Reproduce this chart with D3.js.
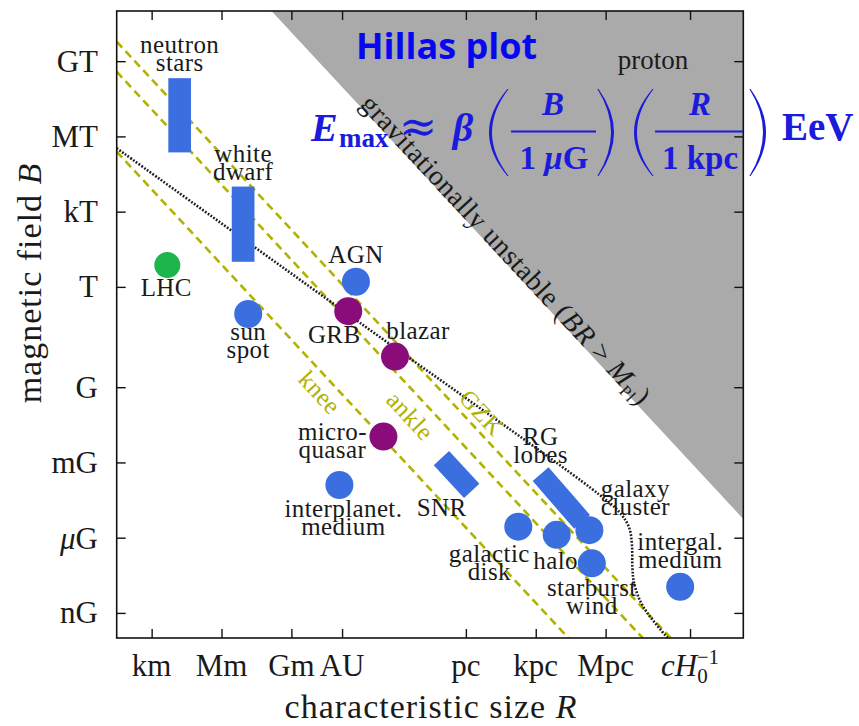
<!DOCTYPE html>
<html>
<head>
<meta charset="utf-8">
<script src="https://cdn.jsdelivr.net/npm/d3@7"></script>
<style>
body { margin: 0; background: #fff; }
text { font-family: "Liberation Serif", "Times New Roman", serif; fill: #1a1a1a; }
</style>
</head>
<body>
<script>
// axes: R in metres, B in gauss
const xTickLabels = ["km", "Mm", "Gm", "AU", "pc", "kpc", "Mpc", "cH0-1"];
const xTickValues = [1e3, 1e6, 1e9, 1.496e11, 3.086e16, 3.086e19, 3.086e22, 1.3e26];
const yTickLabels = ["nG", "μG", "mG", "G", "T", "kT", "MT", "GT"];
const yTickValues = [1e-9, 1e-6, 1e-3, 1, 1e4, 1e7, 1e10, 1e13];

// sources drawn as dots
const dotNames = ["LHC", "sun\nspot", "AGN", "GRB", "blazar", "micro-\nquasar",
  "interplanet.\nmedium", "galactic\ndisk", "halo", "galaxy\ncluster",
  "starburst\nwind", "intergal.\nmedium"];
const dotR = [4.7e3, 1.4e7, 5.9e11, 2.75e11, 2.8e13, 8.9e12, 1.15e11, 5.5e18, 2.45e20, 6.2e21, 7.9e21, 4.9e25];
const dotB = [7.4e4, 830, 1.6e4, 1.07e3, 16.6, 1.07e-2, 1.26e-4, 2.75e-6, 1.3e-6, 2.0e-6, 9.5e-8, 1.1e-8];
const dotGroup = ["lab", "steady", "steady", "transient", "transient", "transient",
  "steady", "steady", "steady", "steady", "steady", "steady"];

// sources drawn as boxes (ranges in R and B)
const boxNames = ["neutron\nstars", "white\ndwarf"];
const boxR0 = [5.2e3, 2.75e6];
const boxR1 = [4.9e4, 2.6e7];
const boxB0 = [2.3e9, 1e5];
const boxB1 = [2.1e12, 1e8];

// sources drawn as thick bars
const barNames = ["SNR", "RG\nlobes"];
const barR0 = [2.75e15, 5.0e19];
const barB0 = [1.48e-3, 3.4e-4];
const barR1 = [5.5e16, 3.0e21];
const barB1 = [7.4e-5, 4.3e-6];

// Hillas condition B*R (gauss*metre) for the three energies
const limitNames = ["knee", "ankle", "GZK"];
const limitBR = [7.8e10, 1.2e14, 1.9e15];

// gravitational stability limit B*R
const gravBR = 1.4e23;

// loss limit (dotted)
const lossR = [10 ** 1.5, 1e12, 10 ** 22.2, 10 ** 23.1, 10 ** 23.5, 10 ** 23.62, 10 ** 23.64, 10 ** 23.72, 10 ** 24.1, 10 ** 25.2];
const lossB = [10 ** 9.53, 10 ** 2.53, 10 ** -4.27, 1e-5, 10 ** -5.6, 10 ** -6.3, 10 ** -7.2, 10 ** -7.85, 10 ** -8.75, 10 ** -10.05];

const colours = { lab: "#1db64c", steady: "#3b6fe0", transient: "#8a0b7a" };
const olive = "#b2b200";
const blueText = "#1b1bdc";

// label layout: offset of first baseline from the mark
const dotLabel = [[-1, 31], [0, 26], [0, -19], [-14, 32], [23, -18], [-51, 3],
  [4, 32], [-29, 35], [-1, 34], [46, -33], [0, 33], [0, -37]];

const w = 859, h = 726;
const svg = d3.select("body").append("svg").attr("width", w).attr("height", h);

const x = d3.scaleLog().domain([10 ** 1.5, 10 ** 28.4]).range([116.7, 743.3]);
const y = d3.scaleLog().domain([1e-10, 1e15]).range([638, 11]);
const [xl, xr] = x.range();
const [yb, yt] = y.range();

svg.append("clipPath").attr("id", "plot")
  .append("rect").attr("x", xl).attr("y", yt).attr("width", xr - xl).attr("height", yb - yt);

const plot = svg.append("g").attr("clip-path", "url(#plot)");

// gravitationally unstable region
const [rMin, rMax] = x.domain();
const [bMin, bMax] = y.domain();
plot.append("path")
  .attr("d", d3.line()([[x(gravBR / bMax), y(bMax)], [x(rMax), y(bMax)], [x(rMax), y(gravBR / rMax)]]) + "Z")
  .attr("fill", "#aaaaaa");

const ang = Math.atan2(y(gravBR / 1e20) - y(gravBR / 1e10), x(1e20) - x(1e10)) * 180 / Math.PI;
const ra = ang * Math.PI / 180;

// limit lines
const line = d3.line().x(d => x(d[0])).y(d => y(d[1]));
limitBR.forEach(br => {
  plot.append("path")
    .attr("d", line([[rMin, br / rMin], [br / bMin, bMin]]))
    .attr("fill", "none").attr("stroke", olive)
    .attr("stroke-width", 2.6).attr("stroke-dasharray", "8 5");
});

plot.append("path")
  .attr("d", line.curve(d3.curveCatmullRom)(d3.zip(lossR, lossB)))
  .attr("fill", "none").attr("stroke", "#1e1e1e")
  .attr("stroke-width", 2.6).attr("stroke-dasharray", "1.8 1.6");
line.curve(d3.curveLinear);

// marks
boxNames.forEach((n, i) => {
  plot.append("rect")
    .attr("x", x(boxR0[i])).attr("y", y(boxB1[i]))
    .attr("width", x(boxR1[i]) - x(boxR0[i])).attr("height", y(boxB0[i]) - y(boxB1[i]))
    .attr("fill", colours.steady);
});
barNames.forEach((n, i) => {
  plot.append("line")
    .attr("x1", x(barR0[i])).attr("y1", y(barB0[i]))
    .attr("x2", x(barR1[i])).attr("y2", y(barB1[i]))
    .attr("stroke", colours.steady).attr("stroke-width", 21);
});
plot.selectAll("circle.src")
  .data(dotNames)
  .enter()
  .append("circle")
  .attr("class", "src")
  .attr("cx", (d, i) => x(dotR[i]))
  .attr("cy", (d, i) => y(dotB[i]))
  .attr("r", (d, i) => dotGroup[i] == "lab" ? 13 : 14)
  .attr("fill", (d, i) => colours[dotGroup[i]]);

// labels (one text per label, lines as tspans)
function label(cx, by, txt) {
  const t = svg.append("text").attr("y", by)
    .attr("text-anchor", "middle").attr("font-size", 25).attr("letter-spacing", 0.4);
  txt.split("\n").forEach((s, k) => {
    t.append("tspan").attr("x", cx).attr("dy", k ? 18 : 0).text(s);
  });
}
dotNames.forEach((n, i) => label(x(dotR[i]) + dotLabel[i][0], y(dotB[i]) + dotLabel[i][1], n));
boxNames.forEach((n, i) => label((x(boxR0[i]) + x(boxR1[i])) / 2, y(boxB1[i]) - 25, n));
label((x(barR0[0]) + x(barR1[0])) / 2 - 15, (y(barB0[0]) + y(barB1[0])) / 2 + 42, barNames[0]);
label(x(barR0[1]), y(barB0[1]) - 29, barNames[1]);

// line labels, placed beside their line
const limitLabelR = [10 ** 10.69, 10 ** 14.7, 10 ** 16.7];
const limitLabelOff = [15, 19, -15];
limitNames.forEach((n, i) => {
  const r = limitLabelR[i];
  const px = x(r) - Math.sin(ra) * limitLabelOff[i];
  const py = y(limitBR[i] / r) + Math.cos(ra) * limitLabelOff[i];
  svg.append("text")
    .attr("transform", `translate(${px},${py}) rotate(${ang})`)
    .attr("text-anchor", "middle").attr("dominant-baseline", "central")
    .attr("font-size", 25).attr("letter-spacing", 0.4).style("fill", olive).text(n);
});

// gravitational label
{
  const r = x.invert(359);
  const t = svg.append("text")
    .attr("transform", `translate(${x(r)},${y(gravBR / r)}) rotate(${ang})`)
    .attr("font-size", 28).attr("letter-spacing", 0.6);
  t.append("tspan").text("gravitationally unstable (");
  t.append("tspan").attr("font-style", "italic").text("BR");
  t.append("tspan").text(" > ");
  t.append("tspan").attr("font-style", "italic").text("M");
  t.append("tspan").attr("font-size", 17).attr("dy", 5).text("Pl");
  t.append("tspan").attr("dy", -5).text(")");
}

// frame and ticks
svg.append("g").attr("transform", `translate(0,${yb})`)
  .call(d3.axisBottom(x).tickValues(xTickValues).tickSize(-9).tickFormat(""));
svg.append("g").attr("transform", `translate(0,${yt})`)
  .call(d3.axisTop(x).tickValues(xTickValues).tickSize(-9).tickFormat(""));
svg.append("g").attr("transform", `translate(${xl},0)`)
  .call(d3.axisLeft(y).tickValues(yTickValues).tickSize(-9).tickFormat(""));
svg.append("g").attr("transform", `translate(${xr},0)`)
  .call(d3.axisRight(y).tickValues(yTickValues).tickSize(-9).tickFormat(""));
svg.selectAll(".domain").remove();
svg.selectAll(".tick line").attr("stroke", "#111").attr("stroke-width", 1.4);
svg.append("rect").attr("x", xl).attr("y", yt).attr("width", xr - xl).attr("height", yb - yt)
  .attr("fill", "none").attr("stroke", "#111").attr("stroke-width", 1.6);

// tick labels
xTickValues.forEach((v, i) => {
  const t = svg.append("text").attr("x", x(v)).attr("y", 676)
    .attr("text-anchor", "middle").attr("font-size", 31);
  if (xTickLabels[i] == "cH0-1") {
    t.append("tspan").attr("font-style", "italic").text("cH");
    t.append("tspan").attr("font-size", 21).attr("dy", 7).text("0");
    t.append("tspan").attr("font-size", 21).attr("dy", -19).attr("dx", -11).text("−1");
  } else t.text(xTickLabels[i]);
});
yTickValues.forEach((v, i) => {
  const t = svg.append("text").attr("x", 98).attr("y", y(v))
    .attr("text-anchor", "end").attr("dominant-baseline", "central").attr("font-size", 31);
  if (yTickLabels[i][0] == "μ") {
    t.append("tspan").attr("font-style", "italic").text("μ");
    t.append("tspan").text(yTickLabels[i].slice(1));
  } else t.text(yTickLabels[i]);
});

// axis titles
{
  const t = svg.append("text").attr("x", 431).attr("y", 718)
    .attr("text-anchor", "middle").attr("font-size", 34).attr("letter-spacing", 1);
  t.append("tspan").text("characteristic size ");
  t.append("tspan").attr("font-style", "italic").text("R");
  const u = svg.append("text").attr("transform", "translate(41,283) rotate(-90)")
    .attr("text-anchor", "middle").attr("font-size", 34).attr("letter-spacing", 1);
  u.append("tspan").text("magnetic field ");
  u.append("tspan").attr("font-style", "italic").text("B");
}

// title and formula
svg.append("text").attr("x", 356).attr("y", 59)
  .style("font-family", "'Open Sans', sans-serif").attr("font-weight", 700)
  .attr("font-size", 36).style("fill", "#0808f0").text("Hillas plot");
svg.append("text").attr("x", 653).attr("y", 69).attr("text-anchor", "middle")
  .attr("font-size", 27).text("proton");

const f = svg.append("g");
function ftext(xp, yp, s, size, opts) {
  const t = f.append("text").attr("x", xp).attr("y", yp).attr("font-size", size)
    .attr("font-weight", 700).style("fill", blueText).text(s);
  if (opts) Object.entries(opts).forEach(([k, v]) => t.attr(k, v));
  return t;
}
ftext(311, 141, "E", 40, { "font-style": "italic" });
ftext(339, 147, "max", 27);
ftext(418, 142, "≈", 46, { "text-anchor": "middle", "font-weight": 400 })
  .style("font-family", "'DejaVu Serif', serif");
ftext(463, 141, "β", 40, { "font-style": "italic", "text-anchor": "middle" });
ftext(553, 115, "B", 33, { "font-style": "italic", "text-anchor": "middle" });
{
  const t = ftext(554, 169, "1 ", 33, { "text-anchor": "middle" });
  t.append("tspan").attr("font-style", "italic").text("μ");
  t.append("tspan").text("G");
}
ftext(700, 115, "R", 33, { "font-style": "italic", "text-anchor": "middle" });
ftext(700, 169, "1 kpc", 33, { "text-anchor": "middle" });
ftext(782, 140, "EeV", 39);
f.append("line").attr("x1", 511).attr("x2", 596).attr("y1", 131.5).attr("y2", 131.5)
  .attr("stroke", blueText).attr("stroke-width", 2.2);
f.append("line").attr("x1", 655).attr("x2", 743).attr("y1", 131.5).attr("y2", 131.5)
  .attr("stroke", blueText).attr("stroke-width", 2.2);

// tall parentheses drawn as thin crescents
function paren(x0, x1, y0, y1, left) {
  const ym = (y0 + y1) / 2;
  const th = 3;
  let d;
  if (left) {
    d = `M${x1 - 0.6},${y0} Q${2 * x0 - x1 + 0.6},${ym} ${x1 - 0.6},${y1} L${x1 + 0.6},${y1} Q${2 * (x0 + th) - x1 - 0.6},${ym} ${x1 + 0.6},${y0}Z`;
  } else {
    d = `M${x0 + 0.6},${y0} Q${2 * x1 - x0 - 0.6},${ym} ${x0 + 0.6},${y1} L${x0 - 0.6},${y1} Q${2 * (x1 - th) - x0 + 0.6},${ym} ${x0 - 0.6},${y0}Z`;
  }
  f.append("path").attr("d", d).attr("fill", blueText);
}
paren(489, 508, 89, 176, true);
paren(598, 614, 89, 176, false);
paren(634, 653, 89, 176, true);
paren(750, 766, 89, 176, false);
</script>
</body>
</html>
